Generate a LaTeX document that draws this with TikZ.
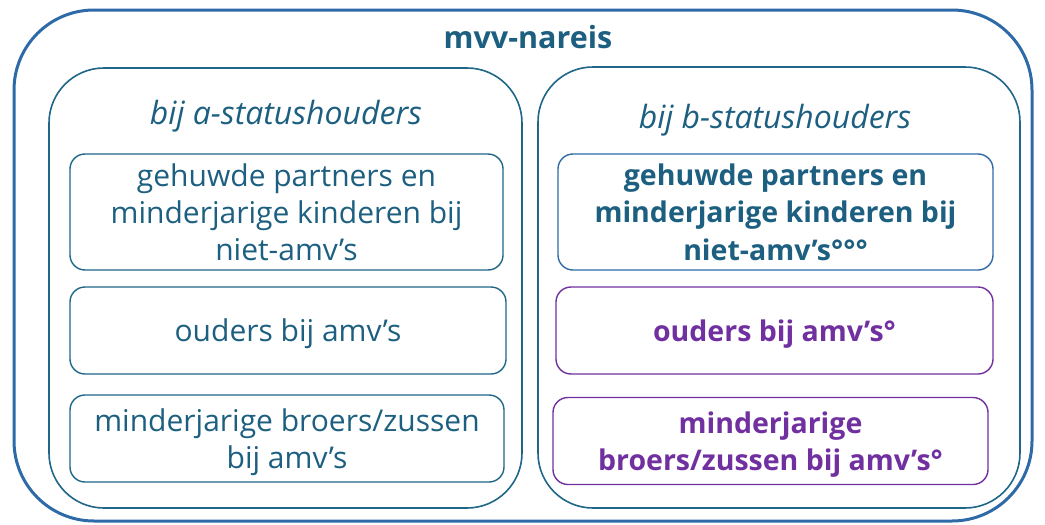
\documentclass[tikz,border=0pt]{standalone}
\usepackage{fontspec}
\setmainfont{Open Sans}
\usetikzlibrary{positioning}
\definecolor{outerblue}{HTML}{2E6AA8}
\definecolor{innerteal}{HTML}{1F6688}
\definecolor{textteal}{HTML}{1D5F80}
\definecolor{boxpurple}{HTML}{7030A0}
\tikzset{frame/.style={draw, rectangle, line width=1.6pt, color=innerteal, rounded corners=55pt}}
\tikzset{block/.style={draw, rectangle, line width=1.4pt, rounded corners=15pt, align=center, text=textteal, font=\fontsize{30}{37}\selectfont}}
\tikzset{boldblock/.style={block, font=\fontsize{28.5}{37.5}\selectfont\bfseries}}
\begin{document}
\begin{tikzpicture}[x=1pt,y=-1pt]
\useasboundingbox (0,0) rectangle (1045,525);

\node[draw, rectangle, line width=3pt, color=outerblue, rounded corners=80pt, minimum width=1018pt, minimum height=511pt] (outer) at (523,265.5) {};
\node[text=textteal, font=\fontsize{30.5}{30}\selectfont\bfseries] (title) at (528,37) {mvv-nareis};

%a-statushouders
\node[frame, minimum width=473pt, minimum height=440pt] (afr) at (285.5,288) {};
\node[text=textteal, font=\fontsize{32}{30}\selectfont\itshape] (alab) at (286,116) {bij a-statushouders};
\node[block, draw=innerteal, minimum width=433pt, minimum height=116pt] (apart) at (286.5,212) {gehuwde partners en\\minderjarige kinderen bij\\niet-amv's};
\node[block, draw=innerteal, minimum width=436pt, minimum height=87pt, text depth=0pt] (aoud) at (288,330.5) {ouders bij amv's};
\node[block, draw=innerteal, minimum width=434pt, minimum height=87pt, text depth=0pt] (abroer) at (287,438.5) {minderjarige broers/zussen\\bij amv's};

%b-statushouders
\node[frame, minimum width=482pt, minimum height=441pt] (bfr) at (779,287.5) {};
\node[text=textteal, font=\fontsize{32}{30}\selectfont\itshape] (blab) at (775,120) {bij b-statushouders};
\node[boldblock, draw=outerblue, minimum width=435pt, minimum height=116pt] (bpart) at (775.5,212) {gehuwde partners en\\minderjarige kinderen bij\\niet-amv's°°°};
\node[boldblock, draw=boxpurple, text=boxpurple, minimum width=437pt, minimum height=87pt, text depth=0pt] (boud) at (774.5,330.5) {ouders bij amv's°};
\node[boldblock, draw=boxpurple, text=boxpurple, minimum width=435pt, minimum height=87pt, text depth=0pt] (bbroer) at (770.5,441) {minderjarige\\broers/zussen bij amv's°};

\end{tikzpicture}
\end{document}
